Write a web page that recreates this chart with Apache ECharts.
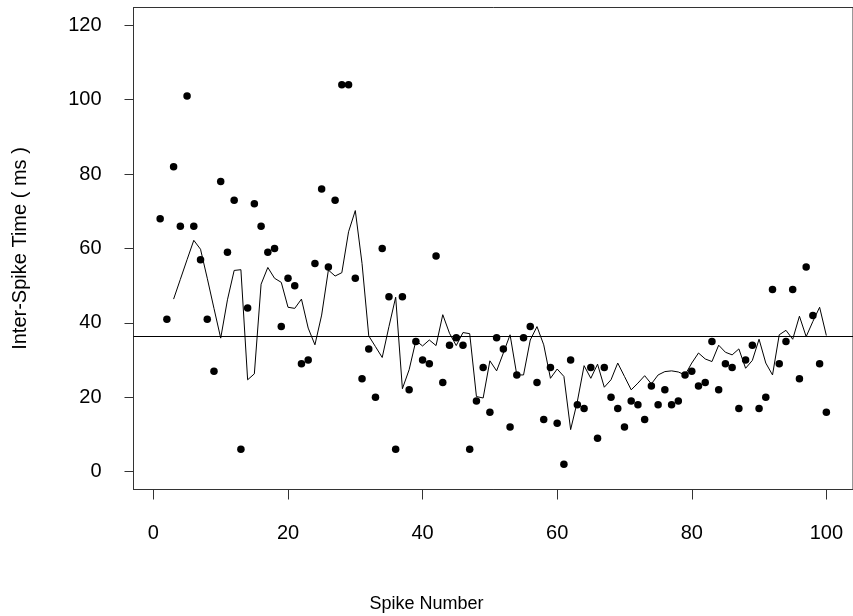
<!DOCTYPE html>
<html>
<head>
<meta charset="utf-8">
<script src="https://cdn.jsdelivr.net/npm/echarts@6/dist/echarts.min.js"></script>
<style>
html,body{margin:0;padding:0;background:#fff;}
#c{width:853px;height:616px;}
</style>
</head>
<body>
<div id="c"></div>
<script>
// Spike numbers (x) and inter-spike times (ms)
const spikeNumbers = Array.from({length: 100}, (_, i) => i + 1);
const interSpikeTimes = [
  68, 41, 82, 66, 101, 66, 57, 41, 27, 78,
  59, 73, 6, 44, 72, 66, 59, 60, 39, 52,
  50, 29, 30, 56, 76, 55, 73, 104, 104, 52,
  25, 33, 20, 60, 47, 6, 47, 22, 35, 30,
  29, 58, 24, 34, 36, 34, 6, 19, 28, 16,
  36, 33, 12, 26, 36, 39, 24, 14, 28, 13,
  2, 30, 18, 17, 28, 9, 28, 20, 17, 12,
  19, 18, 14, 23, 18, 22, 18, 19, 26, 27,
  23, 24, 35, 22, 29, 28, 17, 30, 34, 17,
  20, 49, 29, 35, 49, 25, 55, 42, 29, 16
];
// Smoothed trace (starts at spike 3)
const smoothed = [
  null, null, 46.4, 51.7, 57.0, 62.2, 59.8, 52.0, 43.9, 35.9,
  46.2, 54.1, 54.3, 24.7, 26.3, 50.4, 54.9, 52.0, 50.9, 44.2,
  43.9, 46.4, 38.6, 34.1, 42.1, 54.2, 52.6, 53.5, 64.5, 70.2,
  56.0, 36.5, 33.6, 30.7, 39.0, 46.9, 22.3, 27.4, 35.2, 33.8,
  35.4, 33.9, 42.2, 37.2, 33.9, 37.4, 37.1, 20.2, 19.8, 29.8,
  27.1, 31.9, 36.8, 26.0, 26.0, 35.4, 39.0, 34.1, 25.1, 27.6,
  25.6, 11.3, 18.9, 28.5, 25.1, 28.9, 22.7, 24.7, 29.2, 25.6,
  22.0, 23.8, 25.8, 23.6, 26.0, 26.9, 27.1, 26.8, 26.0, 29.2,
  31.9, 30.3, 29.6, 34.0, 32.1, 31.4, 33.0, 27.8, 29.9, 35.6,
  29.2, 26.0, 36.8, 38.0, 35.6, 41.8, 36.3, 40.4, 44.2, 36.6
];
const xTicks = [0, 20, 40, 60, 80, 100];
const yTicks = [0, 20, 40, 60, 80, 100, 120];

const scatterData = spikeNumbers.map((x, i) => [x, interSpikeTimes[i]]);
const lineData = spikeNumbers.map((x, i) => [x, smoothed[i]]).filter(d => d[1] !== null);

const font = 'Liberation Sans, Arial, sans-serif';
const chart = echarts.init(document.getElementById('c'), null, {renderer: 'canvas'});
chart.setOption({
  animation: false,
  backgroundColor: '#fff',
  title: {
    text: 'Spike Number', left: 'center', top: 595,
    padding: 0, itemGap: 0,
    textStyle: {fontFamily: font, fontSize: 18, fontWeight: 'normal', color: '#000'}
  },
  grid: {
    left: 133.5, top: 7.5, width: 722, height: 482,
    show: true, borderColor: '#333', borderWidth: 1, backgroundColor: 'transparent'
  },
  xAxis: {
    type: 'value', min: -2.96, max: 103.96,
    axisLine: {show: true, onZero: false, lineStyle: {color: '#333', width: 1}},
    axisTick: {show: true, length: 10, customValues: xTicks, lineStyle: {color: '#333', width: 1}},
    axisLabel: {customValues: xTicks, margin: 34, fontFamily: font, fontSize: 20, color: '#000'},
    splitLine: {show: false}
  },
  yAxis: {
    type: 'value', min: -4.8, max: 124.8,
    name: 'Inter-Spike Time ( ms )', nameLocation: 'middle', nameGap: 103,
    nameTextStyle: {fontFamily: font, fontSize: 20, color: '#000'},
    axisLine: {show: true, onZero: false, lineStyle: {color: '#333', width: 1}},
    axisTick: {show: true, length: 9, customValues: yTicks, lineStyle: {color: '#333', width: 1}},
    axisLabel: {customValues: yTicks, margin: 32, fontFamily: font, fontSize: 20, color: '#000'},
    splitLine: {show: false}
  },
  series: [
    {
      type: 'scatter', data: scatterData, symbol: 'circle', symbolSize: 7.5,
      itemStyle: {color: '#000', opacity: 1},
      markLine: {
        silent: true, symbol: ['none', 'none'],
        label: {show: false},
        lineStyle: {color: '#000', width: 1, type: 'solid', opacity: 1},
        data: [{type: 'average', name: 'mean'}]
      }
    },
    {
      type: 'line', data: lineData, showSymbol: false, symbol: 'none',
      lineStyle: {color: '#000', width: 1}, itemStyle: {color: '#000'}
    }
  ]
});
</script>
</body>
</html>
